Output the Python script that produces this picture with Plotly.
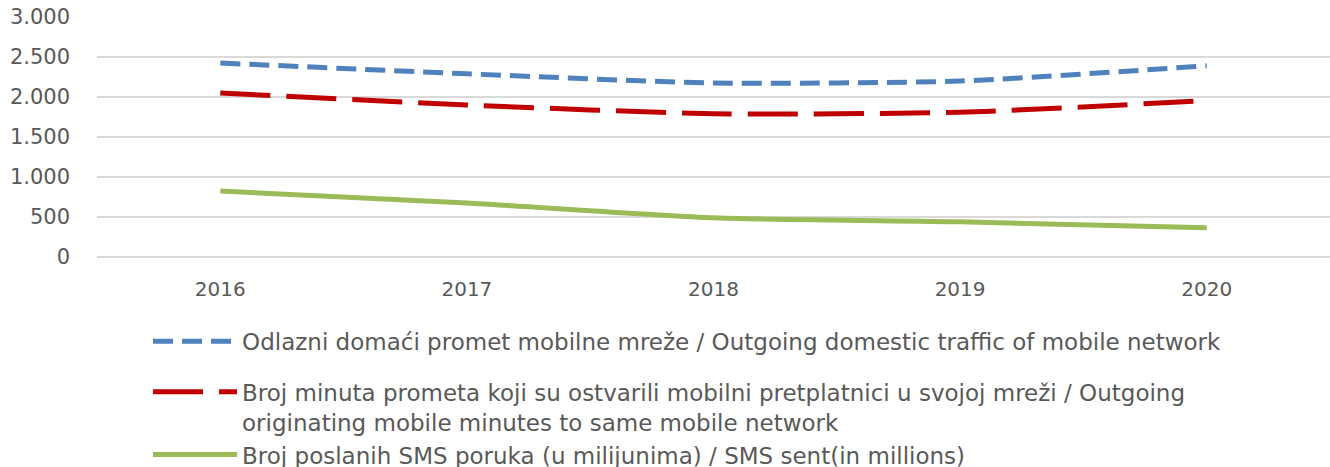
import plotly.graph_objects as go

years = ["2016", "2017", "2018", "2019", "2020"]
outgoing_domestic = [2425, 2290, 2175, 2200, 2390]
same_network_minutes = [2050, 1900, 1790, 1810, 1955]
sms_sent = [825, 675, 490, 440, 365]

name1 = "Odlazni domaći promet mobilne mreže / Outgoing domestic traffic of mobile network"
name2 = ("Broj minuta prometa koji su ostvarili mobilni pretplatnici u svojoj mreži / Outgoing"
         "<br>originating mobile minutes to same mobile network")
name3 = "Broj poslanih SMS poruka (u milijunima) / SMS sent(in millions)"

font_family = "'DejaVu Sans', sans-serif"
gray = "#595959"

fig = go.Figure()
fig.add_trace(go.Scatter(x=years, y=outgoing_domestic, name=name1, mode="lines",
                         line=dict(color="#4F81BD", width=5, dash="20px,9px", shape="spline", smoothing=0.6),
                         legend="legend", showlegend=True))
fig.add_trace(go.Scatter(x=years, y=same_network_minutes, name=name2, mode="lines",
                         line=dict(color="#C00000", width=5, dash="50px,16px", shape="spline", smoothing=0.6),
                         legend="legend2", showlegend=True))
fig.add_trace(go.Scatter(x=years, y=sms_sent, name=name3, mode="lines",
                         line=dict(color="#9BBB59", width=5, shape="spline", smoothing=0.6),
                         legend="legend2", showlegend=True))

legend_common = dict(font=dict(family=font_family, size=23, color=gray),
                     bgcolor="rgba(0,0,0,0)", orientation="v", valign="top",
                     xanchor="left", yanchor="top", itemwidth=84, itemclick=False,
                     visible=True)

fig.update_layout(
    width=1330, height=467,
    showlegend=True,
    margin=dict(l=97, r=0, t=17, b=210, autoexpand=False),
    paper_bgcolor="white", plot_bgcolor="white",
    separators=",.",
    font=dict(family=font_family, size=20, color=gray),
    legend=dict(x=0.0414, y=-0.262, **legend_common),
    legend2=dict(x=0.0414, y=-0.472, **legend_common),
    xaxis=dict(type="category", range=[-0.5, 4.5], showgrid=False, showline=False,
               ticks="", ticklabelstandoff=18, tickfont=dict(size=20, color=gray)),
    yaxis=dict(range=[0, 3000], dtick=500, tickformat=",d", showgrid=True,
               gridcolor="#D9D9D9", gridwidth=2, zeroline=True, zerolinecolor="#D9D9D9",
               zerolinewidth=2, showline=False, ticks="", ticklabelstandoff=26,
               tickfont=dict(size=21, color=gray)),
)

# remove the default 8px page margin so the figure fills the window exactly
fig.write_html("out.html", config={"displayModeBar": False},
               post_script="document.body.style.margin='0';")
